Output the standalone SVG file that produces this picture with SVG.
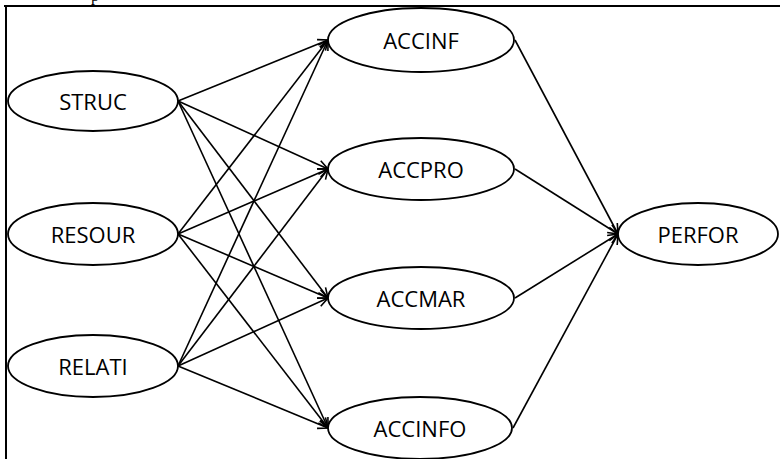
<svg xmlns="http://www.w3.org/2000/svg" width="780" height="459" viewBox="0 0 780 459">
<style>
.n ellipse{fill:#fff;stroke:#000;stroke-width:1.8}
.n text{font-family:"Open Sans","Noto Sans",sans-serif;font-size:22px;fill:#000;text-anchor:middle;dominant-baseline:central}
#edges line{stroke:#000;stroke-width:1.6;marker-end:url(#arr)}
</style>
<defs>
<marker id="arr" markerUnits="userSpaceOnUse" markerWidth="14" markerHeight="12" refX="11" refY="5" orient="auto" viewBox="0 0 14 10">
<path d="M1,0.5 L11,5 L1,9.5" fill="none" stroke="#000" stroke-width="1.6"/>
</marker>
</defs>
<rect width="780" height="459" fill="#fff"/>
<text x="91" y="0.5" font-family="Liberation Serif,serif" font-size="16">p</text>
<line x1="4" y1="6" x2="780" y2="6" stroke="#000" stroke-width="2"/>
<line x1="6" y1="5" x2="6" y2="459" stroke="#000" stroke-width="2"/>
<g id="edges">
<line x1="178" y1="101" x2="328" y2="40"/>
<line x1="178" y1="101" x2="328" y2="169"/>
<line x1="178" y1="101" x2="328" y2="298"/>
<line x1="178" y1="101" x2="328" y2="428"/>
<line x1="178" y1="234" x2="328" y2="40"/>
<line x1="178" y1="234" x2="328" y2="169"/>
<line x1="178" y1="234" x2="328" y2="298"/>
<line x1="178" y1="234" x2="328" y2="428"/>
<line x1="178" y1="366" x2="328" y2="40"/>
<line x1="178" y1="366" x2="328" y2="169"/>
<line x1="178" y1="366" x2="328" y2="298"/>
<line x1="178" y1="366" x2="328" y2="428"/>
<line x1="515" y1="40" x2="618" y2="234"/>
<line x1="515" y1="169" x2="618" y2="234"/>
<line x1="515" y1="298" x2="618" y2="234"/>
<line x1="513" y1="428" x2="618" y2="234"/>
</g>
<g id="STRUC" class="n"><ellipse cx="93" cy="101" rx="85" ry="30"/><text x="93" y="101">STRUC</text></g>
<g id="RESOUR" class="n"><ellipse cx="93" cy="234" rx="85" ry="31"/><text x="93" y="234">RESOUR</text></g>
<g id="RELATI" class="n"><ellipse cx="93" cy="366" rx="85" ry="31"/><text x="93" y="366">RELATI</text></g>
<g id="ACCINF" class="n"><ellipse cx="421" cy="40" rx="93" ry="32"/><text x="421" y="40">ACCINF</text></g>
<g id="ACCPRO" class="n"><ellipse cx="421" cy="169" rx="93" ry="31"/><text x="421" y="169">ACCPRO</text></g>
<g id="ACCMAR" class="n"><ellipse cx="421" cy="298" rx="93" ry="31"/><text x="421" y="298">ACCMAR</text></g>
<g id="ACCINFO" class="n"><ellipse cx="420" cy="428" rx="92" ry="31"/><text x="420" y="428">ACCINFO</text></g>
<g id="PERFOR" class="n"><ellipse cx="698" cy="234" rx="80" ry="31"/><text x="698" y="234">PERFOR</text></g>
</svg>
